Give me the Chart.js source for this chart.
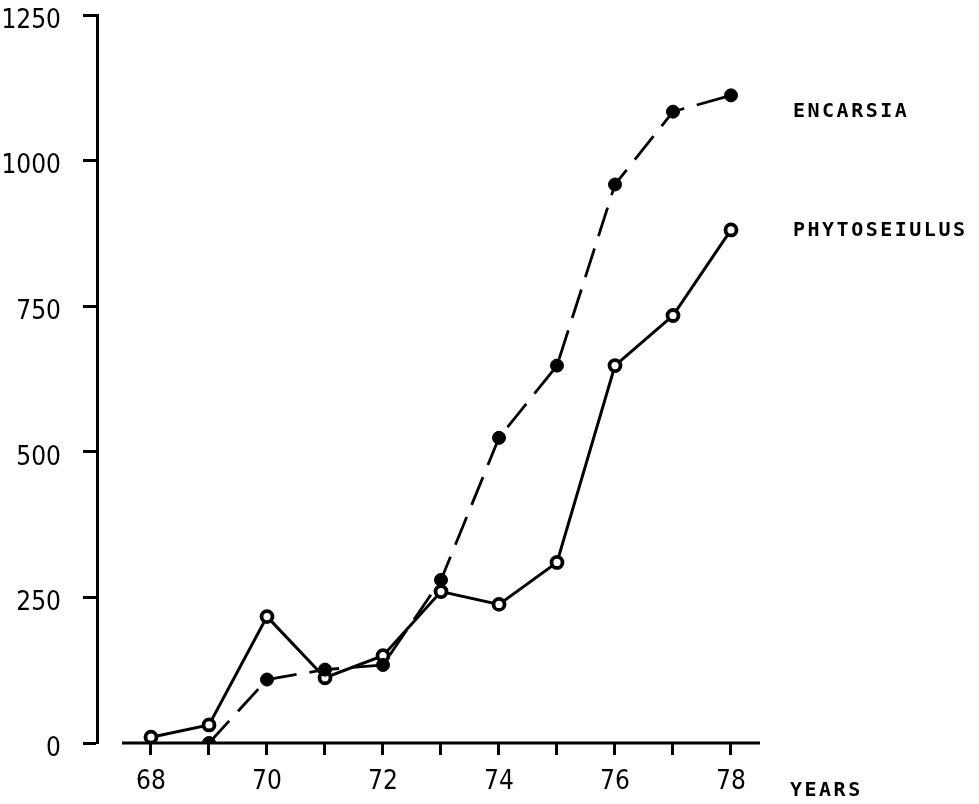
<!DOCTYPE html>
<html>
<head>
<meta charset="utf-8">
<script src="https://cdn.jsdelivr.net/npm/chart.js@4.4.1/dist/chart.umd.min.js"></script>
<style>
  html, body { margin: 0; padding: 0; background: #fff; }
  #wrap { width: 979px; height: 804px; }
</style>
</head>
<body>
<div id="wrap"><canvas id="chart" width="979" height="804"></canvas></div>
<script>
  "use strict";

  // years on the x axis (19xx)
  const years = [68, 69, 70, 71, 72, 73, 74, 75, 76, 77, 78];
  // Encarsia: no point for 68
  const encarsia = [null, 0, 109, 126, 134, 280, 524, 648, 959, 1084, 1112];
  const phytoseiulus = [10, 31, 217, 112, 150, 260, 238, 310, 648, 734, 881];
  const yTicks = [0, 250, 500, 750, 1000, 1250];
  const seriesNames = ["ENCARSIA", "PHYTOSEIULUS"];

  const ink = "#000";
  const numFont = { family: "'Liberation Sans Narrow', 'DejaVu Sans Condensed', sans-serif", size: 26, lineHeight: 1 };
  const labelFont = "bold 20px 'DejaVu Sans Mono', 'Liberation Mono', monospace";

  const toPoints = (vals) => years.map((yr, i) => ({ x: yr, y: vals[i] }));

  /* ---------- axis line, series names, "YEARS" ---------- */
  const extras = {
    id: "extras",
    afterDraw(chart) {
      const { ctx, scales: { x, y } } = chart;
      ctx.save();
      // x axis line (detached from the y axis, as in the print)
      ctx.strokeStyle = ink;
      ctx.lineWidth = 3;
      ctx.beginPath();
      ctx.moveTo(x.getPixelForValue(67.5), y.getPixelForValue(0));
      ctx.lineTo(x.getPixelForValue(78.5), y.getPixelForValue(0));
      ctx.stroke();

      ctx.fillStyle = ink;
      ctx.font = labelFont;
      ctx.letterSpacing = "2.5px";
      ctx.textBaseline = "middle";
      ctx.textAlign = "left";
      const offsets = [16, 1];
      chart.data.datasets.forEach((ds, i) => {
        const pts = chart.getDatasetMeta(i).data;
        const last = pts[pts.length - 1];
        ctx.fillText(seriesNames[i], last.x + 62, last.y + offsets[i]);
      });
      ctx.fillText("YEARS", x.getPixelForValue(78) + 59, y.getPixelForValue(0) + 48);
      ctx.restore();
    }
  };

  new Chart(document.getElementById("chart"), {
    type: "line",
    data: {
      datasets: [
        {
          label: seriesNames[0],
          data: toPoints(encarsia),
          borderColor: ink, borderWidth: 2.8, borderDash: [30, 13],
          pointRadius: 6.5, pointBackgroundColor: ink, pointBorderColor: ink, pointBorderWidth: 1,
          tension: 0, fill: false
        },
        {
          label: seriesNames[1],
          data: toPoints(phytoseiulus),
          borderColor: ink, borderWidth: 3,
          pointRadius: 5.5, pointBackgroundColor: "#fff", pointBorderColor: ink, pointBorderWidth: 3.8,
          tension: 0, fill: false
        }
      ]
    },
    options: {
      responsive: false,
      animation: false,
      layout: { padding: { top: 15, right: 219, bottom: 0, left: 0 } },
      plugins: { legend: { display: false }, tooltip: { enabled: false } },
      scales: {
        x: {
          type: "linear",
          min: 67.069, max: 78.5,
          border: { display: false },
          grid: { drawOnChartArea: false, tickLength: 12, tickWidth: 3, color: ink },
          ticks: {
            stepSize: 1, includeBounds: false, autoSkip: false, maxRotation: 0,
            color: ink, font: numFont, padding: 14,
            callback: (v) => (v % 2 === 0 ? String(v) : "")
          },
          afterFit: (s) => { s.height = 61; s.paddingLeft = 0; s.paddingRight = 0; }
        },
        y: {
          min: 0, max: 1250,
          border: { display: true, color: ink, width: 3 },
          grid: { drawOnChartArea: false, tickLength: 14, tickWidth: 3, color: ink },
          ticks: {
            stepSize: 250, color: ink, font: numFont, padding: 22, labelOffset: 6,
            callback: (v) => (yTicks.includes(v) ? String(v) : "")
          },
          afterFit: (s) => { s.width = 97; s.paddingTop = 0; s.paddingBottom = 0; }
        }
      }
    },
    plugins: [extras]
  });
</script>
</body>
</html>
